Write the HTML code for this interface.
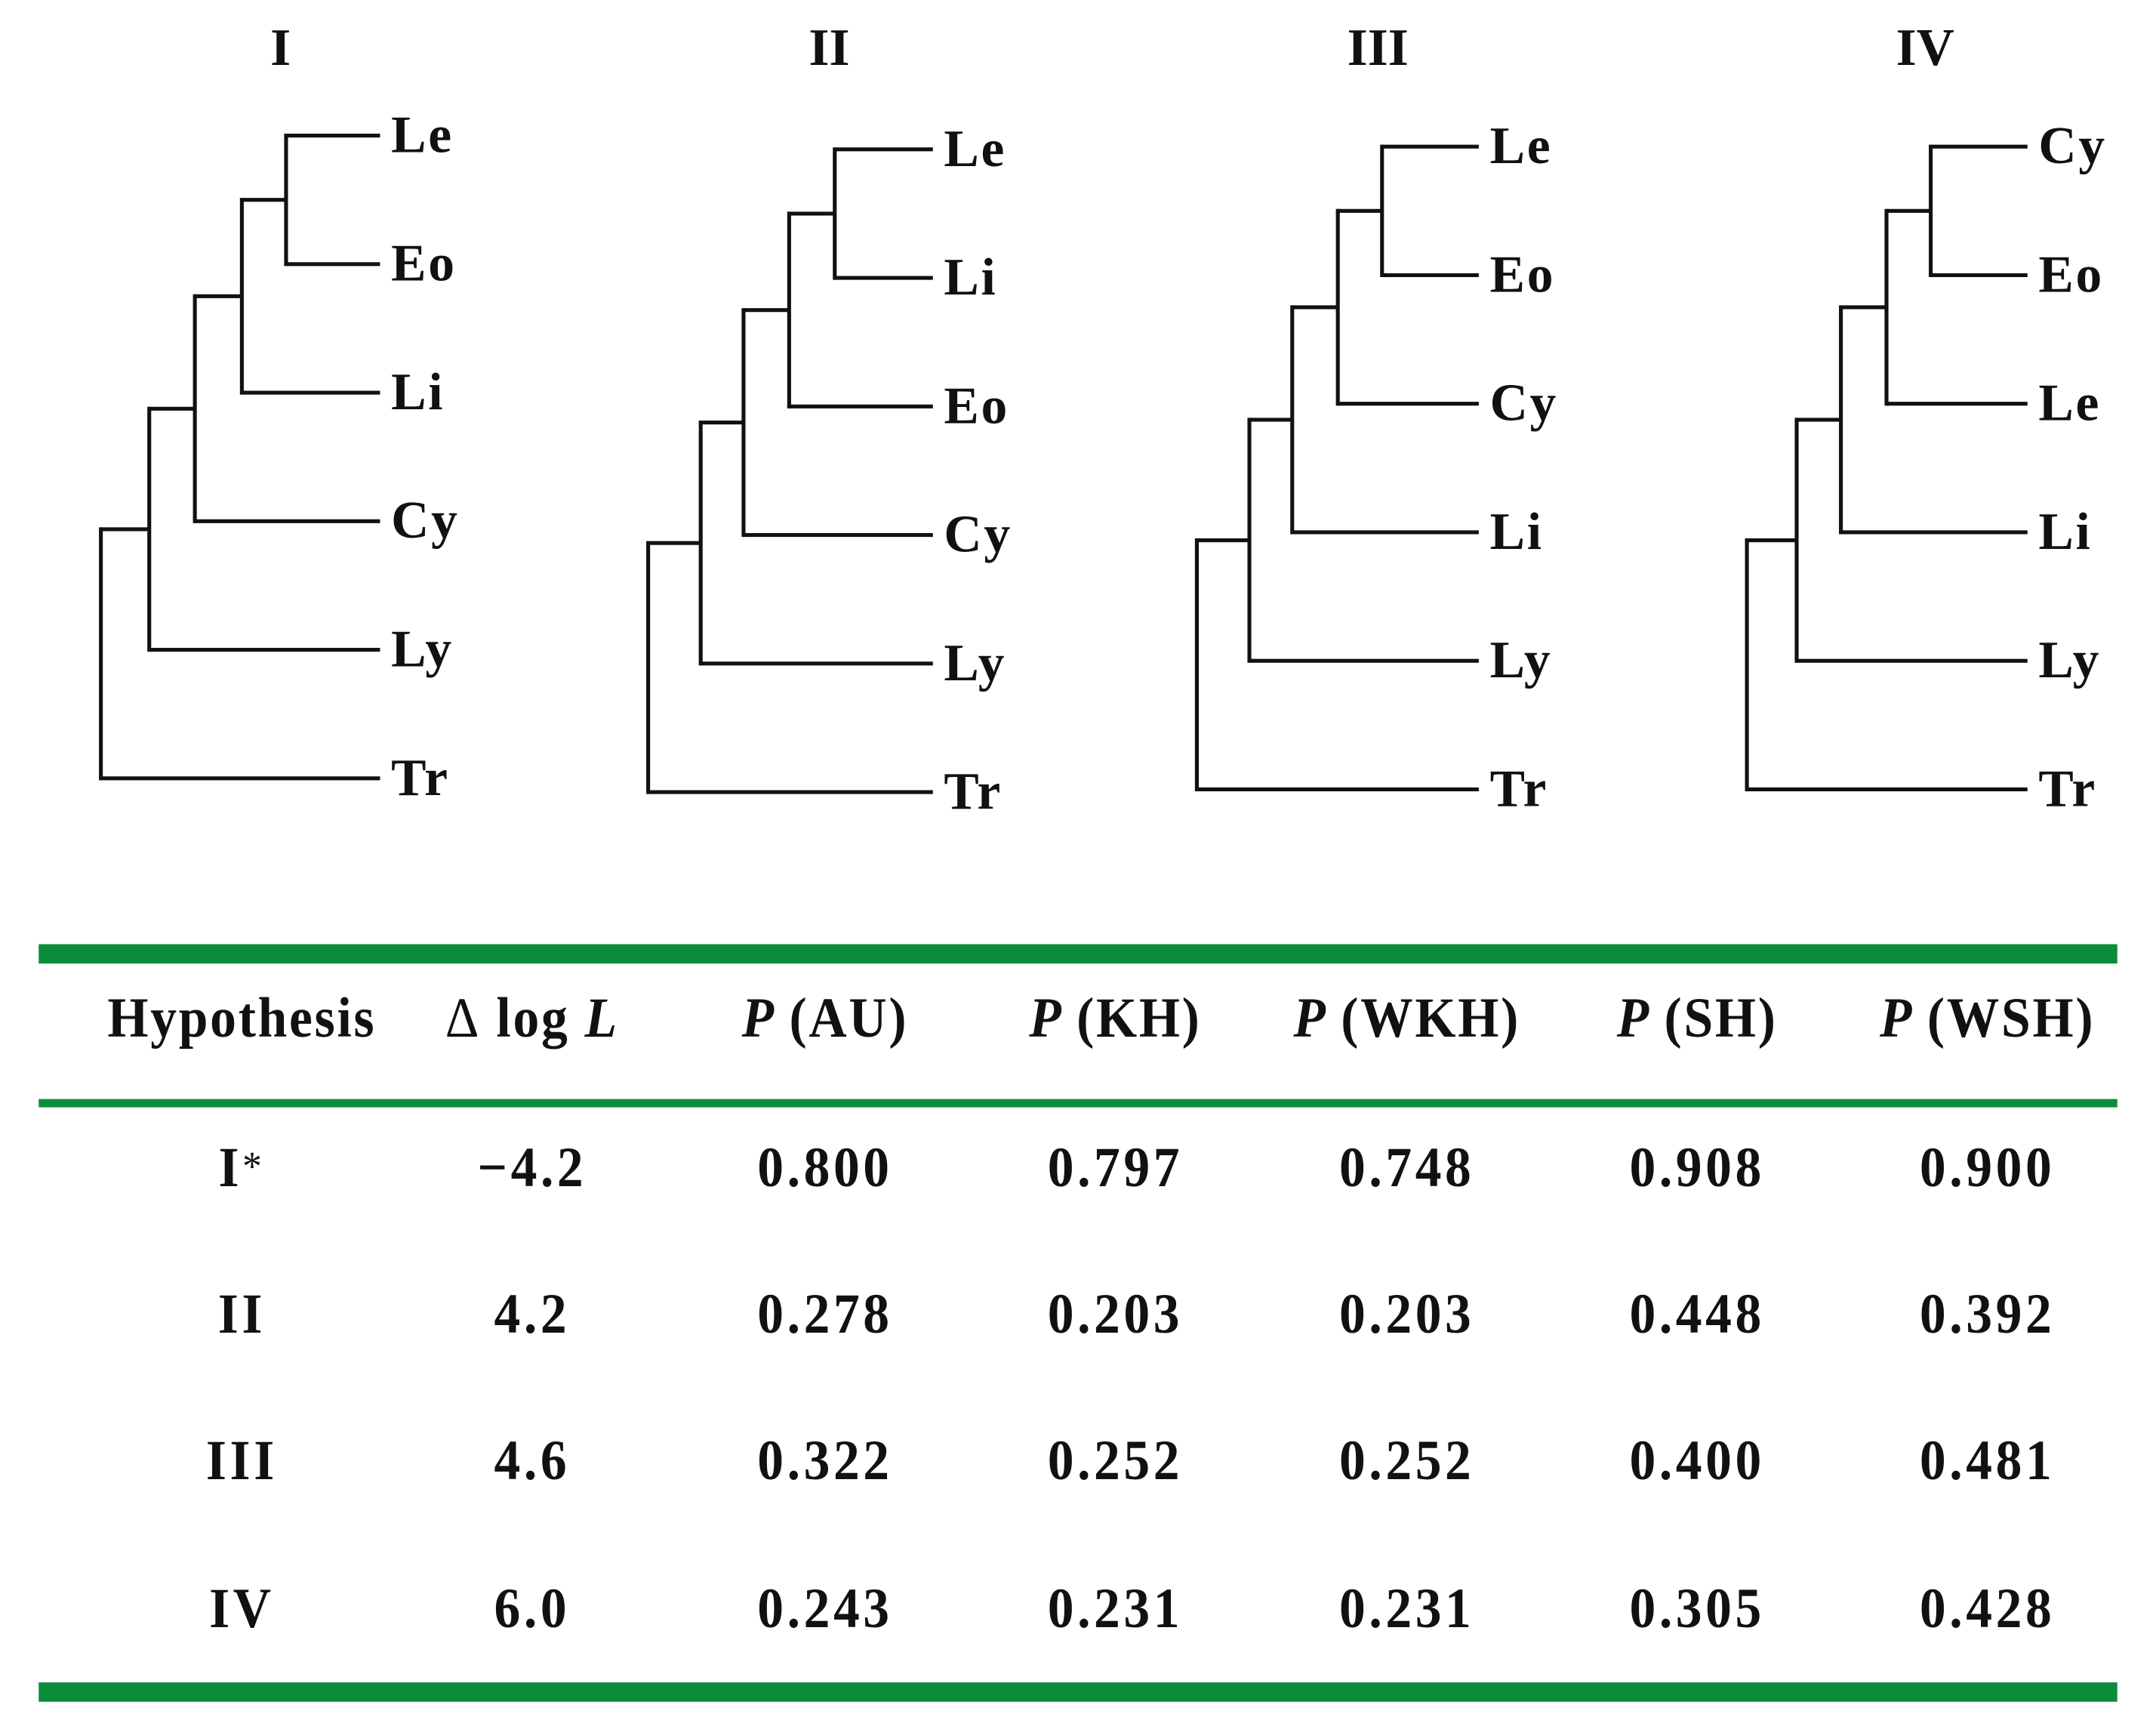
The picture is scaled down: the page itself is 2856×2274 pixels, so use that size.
<!DOCTYPE html>
<html><head><meta charset="utf-8"><style>
html,body{margin:0;padding:0;background:#fff;}
svg{display:block;}
text{font-family:"Liberation Serif",serif;font-weight:bold;fill:#111;}
</style></head><body>
<svg id="fig" width="2856" height="2274" viewBox="0 0 1560 1242" xmlns="http://www.w3.org/2000/svg">
<g id="trees"></g>
<g id="table"></g>
</svg>
<script>
const treeTitles = ["I","II","III","IV"];
const treeLeaves = [
  ["Le","Eo","Li","Cy","Ly","Tr"],
  ["Le","Li","Eo","Cy","Ly","Tr"],
  ["Le","Eo","Cy","Li","Ly","Tr"],
  ["Cy","Eo","Le","Li","Ly","Tr"]
];
const headers = ["Hypothesis","Δ log L","P (AU)","P (KH)","P (WKH)","P (SH)","P (WSH)"];
const rowLabels = ["I*","II","III","IV"];
const deltaLogL = ["−4.2","4.2","4.6","6.0"];
const pAU = ["0.800","0.278","0.322","0.243"];
const pKH = ["0.797","0.203","0.252","0.231"];
const pWKH = ["0.748","0.203","0.252","0.231"];
const pSH = ["0.908","0.448","0.400","0.305"];
const pWSH = ["0.900","0.392","0.481","0.428"];

const NS="http://www.w3.org/2000/svg";
function mk(tag, attrs, parent){const e=document.createElementNS(NS,tag);for(const k in attrs)e.setAttribute(k,attrs[k]);parent.appendChild(e);return e;}

const trees=document.getElementById('trees');
const treeGeo=[
  {tx:203,leafEnd:275,nodes:[207,175,141,108,73],y0:98},
  {tx:600,leafEnd:675,nodes:[604,571,538,507,469],y0:108},
  {tx:997,leafEnd:1070,nodes:[1000,968,935,904,866],y0:106},
  {tx:1393,leafEnd:1467,nodes:[1397,1365,1332,1300,1264],y0:106}
];
const step=93;
treeTitles.forEach((t,i)=>{
  const g=treeGeo[i];
  const tg=mk('g',{},trees);
  
  
  const title=mk('text',{x:g.tx,y:47,'font-size':38,'text-anchor':'middle'},tg);
  title.textContent=t;
  
  
  const ys=treeLeaves[i].map((_,k)=>g.y0+k*step);
  let prevMid=null;
  for(let n=0;n<5;n++){
    const x=g.nodes[n];
    const top = n===0? ys[0] : prevMid;
    const childY = ys[n+1];
    if(n===0){
      mk('line',{x1:x,y1:ys[0],x2:g.leafEnd,y2:ys[0],stroke:'#111','stroke-width':2.8},tg);
    } else {
      mk('line',{x1:x,y1:prevMid,x2:g.nodes[n-1],y2:prevMid,stroke:'#111','stroke-width':2.8},tg);
    }
    mk('line',{x1:x,y1:top,x2:x,y2:childY,stroke:'#111','stroke-width':2.8,'stroke-linecap':'square'},tg);
    mk('line',{x1:x,y1:childY,x2:g.leafEnd,y2:childY,stroke:'#111','stroke-width':2.8},tg);
    prevMid=(top+childY)/2;
  }
  treeLeaves[i].forEach((lab,k)=>{
    const tx=mk('text',{x:g.leafEnd+8,y:ys[k]+12,'font-size':38,'letter-spacing':1.5},tg);
    tx.textContent=lab;
    
    
  });
});

const table=document.getElementById('table');
const green='#0a8c3a';
[[683,14,'top-rule'],[795,6,'header-rule'],[1217,14,'bottom-rule']].forEach(r=>{
  const b=mk('rect',{x:28,y:r[0],width:1504,height:r[1],fill:green},table);
  
  
});
const colX=[175,385,597,807,1018,1228,1438];
headers.forEach((h,i)=>{
  const t=mk('text',{x:colX[i],y:750,'font-size':38,'text-anchor':'middle','letter-spacing':1.5,transform:'translate(0,750) scale(1,1.08) translate(0,-750)'},table);
  
  
  if(h.startsWith('P ')){
    const a=mk('tspan',{'font-style':'italic'},t);a.textContent='P ';
    const b=mk('tspan',{},t);b.textContent=h.slice(2);
  } else if(h.endsWith(' L')){
    const a=mk('tspan',{'font-weight':'normal'},t);a.textContent='Δ';
    const b=mk('tspan',{},t);b.textContent=' log ';
    const c=mk('tspan',{'font-style':'italic'},t);c.textContent='L';
  } else t.textContent=h;
});
const cols=[rowLabels,deltaLogL,pAU,pKH,pWKH,pSH,pWSH];
const rowY=[858,964,1070,1177];
rowLabels.forEach((_,r)=>{
  cols.forEach((c,ci)=>{
    const y=rowY[r];
    const t=mk('text',{x:colX[ci],y:y,'font-size':38,'text-anchor':'middle','letter-spacing':2.5,transform:'translate(0,'+y+') scale(1,1.08) translate(0,'+(-y)+')'},table);
    
    
    if(ci===0 && c[r].endsWith('*')){
      const a=mk('tspan',{},t);a.textContent=c[r].slice(0,-1);
      const b=mk('tspan',{'font-weight':'normal','font-size':28,dy:-4},t);b.textContent='*';
    } else t.textContent=c[r];
  });
});
</script>
</body></html>
